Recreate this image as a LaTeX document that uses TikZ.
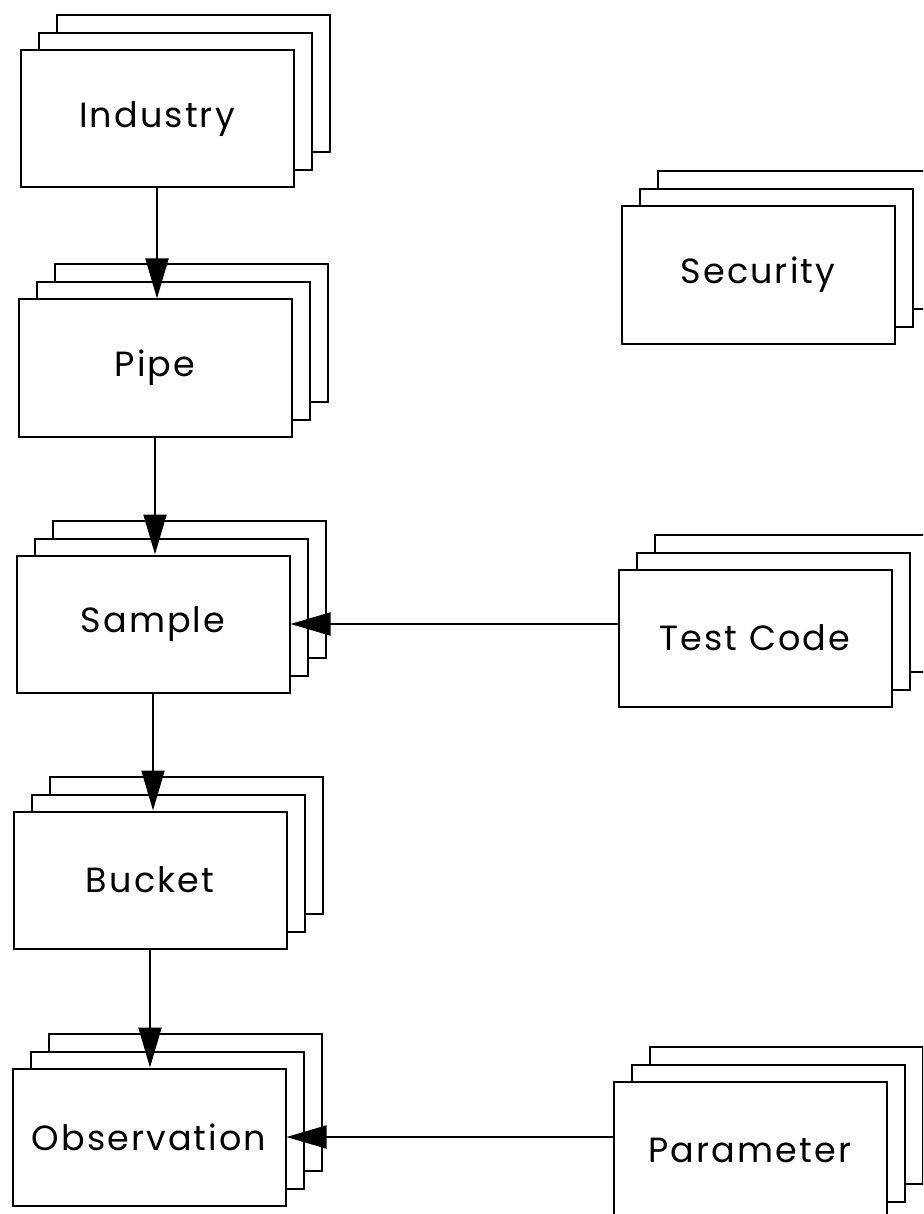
\documentclass[tikz,border=0pt]{standalone}
\usepackage{fontspec}
\setmainfont{Poppins}[LetterSpace=6]
\usetikzlibrary{arrows.meta}

\begin{document}
\begin{tikzpicture}[x=1pt,y=-1pt,
    sheet/.style={draw,fill=white,line width=2pt,minimum width=273pt,
      minimum height=137pt,inner sep=0pt},
    label/.style={font=\fontsize{35}{40}\selectfont},
    every edge/.style={draw,line width=2pt,-{Triangle[length=40pt,width=23pt]}}]

  \clip (0,0) rectangle (923,1214);
  \fill[white] (0,0) rectangle (923,1214);

  % each entity is a stack of three sheets, front one named
  \foreach \n/\x/\y/\t in {industry/157/119/Industry,
                           pipe/155/368/Pipe,
                           sample/153/624/Sample,
                           bucket/150/880/Bucket,
                           observation/149/1137/Observation,
                           security/758/275/Security,
                           testcode/755/638/Test Code,
                           parameter/750/1150/Parameter}{
    \node[sheet] at (\x+36,\y-35) {};
    \node[sheet] at (\x+18,\y-17) {};
    \node[sheet,label] (\n) at (\x,\y) {\t};
  }

  \path (industry)    edge (industry.south |- pipe.north);
  \path (pipe)        edge (pipe.south |- sample.north);
  \path (sample)      edge (sample.south |- bucket.north);
  \path (bucket)      edge (bucket.south |- observation.north);

  \path (testcode.west |- sample.east) edge (sample.east);
  \path (parameter.west |- observation.east) edge (observation.east);

\end{tikzpicture}
\end{document}
